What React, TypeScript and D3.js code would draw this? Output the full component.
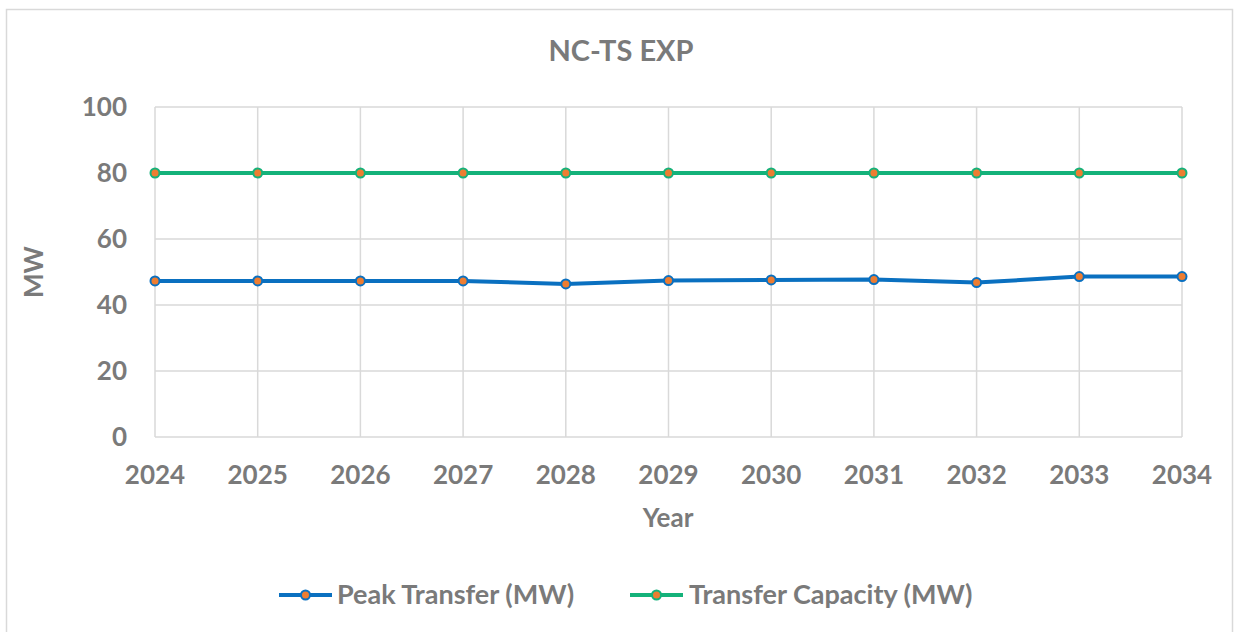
import React from "react";
import * as d3 from "d3";

const years = ["2024", "2025", "2026", "2027", "2028", "2029", "2030", "2031", "2032", "2033", "2034"];
const peakTransfer = [47.3, 47.3, 47.3, 47.3, 46.4, 47.4, 47.6, 47.7, 46.8, 48.6, 48.6];
const transferCapacity = [80, 80, 80, 80, 80, 80, 80, 80, 80, 80, 80];
const yTicks = [0, 20, 40, 60, 80, 100];

const W = 1237;
const H = 632;
const margin = { left: 155, right: 55, top: 107, bottom: 195 };
const textColor = "#7a7a7a";
const gridColor = "#d9d9d9";
const font = "Lato, 'Open Sans', sans-serif";

const series = [
  { name: "Peak Transfer (MW)", values: peakTransfer, color: "#0a70c0" },
  { name: "Transfer Capacity (MW)", values: transferCapacity, color: "#14b27a" },
];

export default function App() {
  const x = d3.scalePoint<string>().domain(years).range([margin.left, W - margin.right]);
  const y = d3.scaleLinear().domain([0, 100]).range([H - margin.bottom, margin.top]);

  const line = d3
    .line<number>()
    .x((_, i) => x(years[i])!)
    .y(d => y(d));

  const legendItems = [
    { lx: 279, tx: 337 },
    { lx: 630, tx: 689 },
  ];

  return (
    <div style={{ position: "fixed", left: 0, top: 0 }}>
      <svg width={W} height={H} style={{ display: "block", background: "#fff" }} fontFamily={font}>
        <rect x={6.5} y={9.5} width={1226} height={640} fill="#fff" stroke="#d9d9d9" strokeWidth={1.5} />

        <text x={621} y={61} textAnchor="middle" fontSize={29} fontWeight="bold" fill={textColor}>
          NC-TS EXP
        </text>

        {/* grid */}
        {yTicks.map(t => (
          <line key={"h" + t} x1={margin.left} x2={W - margin.right} y1={y(t)} y2={y(t)} stroke={gridColor} strokeWidth={1.5} />
        ))}
        {years.map(yr => (
          <line key={"v" + yr} x1={x(yr)} x2={x(yr)} y1={y(100)} y2={y(0)} stroke={gridColor} strokeWidth={1.5} />
        ))}

        {/* y tick labels */}
        {yTicks.map(t => (
          <text key={"yl" + t} x={127} y={y(t)} dy="0.36em" textAnchor="end" fontSize={26} fontWeight="bold" fill={textColor}>
            {t}
          </text>
        ))}
        {/* x tick labels */}
        {years.map(yr => (
          <text key={"xl" + yr} x={x(yr)} y={484} textAnchor="middle" fontSize={26} fontWeight="bold" fill={textColor}>
            {yr}
          </text>
        ))}

        <text x={668} y={527} textAnchor="middle" fontSize={26} fontWeight="bold" fill={textColor}>
          Year
        </text>
        <text
          transform={`translate(43, ${y(50)}) rotate(-90)`}
          textAnchor="middle"
          fontSize={26}
          fontWeight="bold"
          fill={textColor}
        >
          MW
        </text>

        {/* lines */}
        {series.map(s => (
          <g key={s.name}>
            <path d={line(s.values)!} fill="none" stroke={s.color} strokeWidth={4} strokeLinejoin="round" />
            {s.values.map((v, i) => (
              <circle key={i} cx={x(years[i])} cy={y(v)} r={4.5} fill="#ed7d31" stroke={s.color} strokeWidth={2} />
            ))}
          </g>
        ))}

        {/* legend */}
        {series.map((s, i) => {
          const { lx, tx } = legendItems[i];
          return (
            <g key={"lg" + s.name}>
              <line x1={lx} x2={lx + 53} y1={595} y2={595} stroke={s.color} strokeWidth={4} />
              <circle cx={lx + 26.5} cy={595} r={4.5} fill="#ed7d31" stroke={s.color} strokeWidth={2} />
              <text x={tx} y={604} fontSize={27} fontWeight="bold" fill={textColor}>
                {s.name}
              </text>
            </g>
          );
        })}
      </svg>
    </div>
  );
}
